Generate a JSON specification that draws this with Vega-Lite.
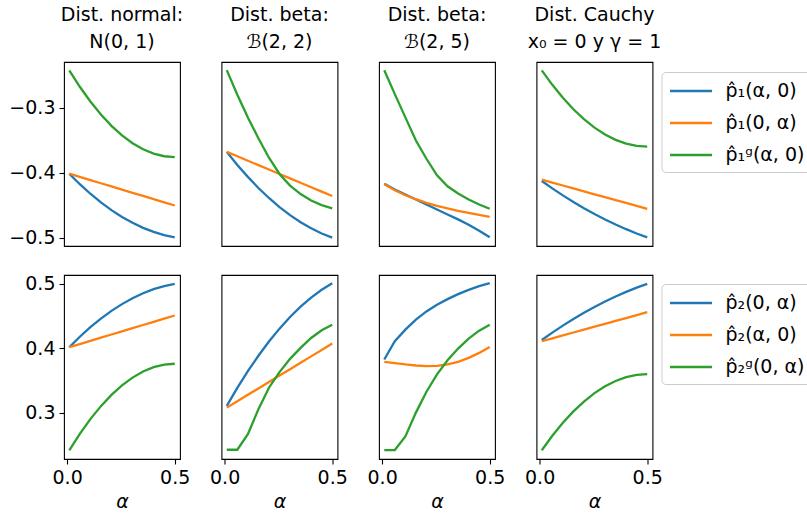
{
"$schema": "https://vega.github.io/schema/vega-lite/v6.json",
"padding": {"left": 8, "top": 5, "right": 0, "bottom": 0},
"background": "white",
"bounds": "full",
"spacing": 24,
"datasets": {
"top": [
{"d":"N","s":"p̂₁(α, 0)","a":0.01,"v":-0.4016},{"d":"N","s":"p̂₁(α, 0)","a":0.059,"v":-0.4178},{"d":"N","s":"p̂₁(α, 0)","a":0.108,"v":-0.4325},{"d":"N","s":"p̂₁(α, 0)","a":0.157,"v":-0.4458},{"d":"N","s":"p̂₁(α, 0)","a":0.206,"v":-0.4577},{"d":"N","s":"p̂₁(α, 0)","a":0.255,"v":-0.4682},{"d":"N","s":"p̂₁(α, 0)","a":0.304,"v":-0.4773},{"d":"N","s":"p̂₁(α, 0)","a":0.353,"v":-0.485},{"d":"N","s":"p̂₁(α, 0)","a":0.402,"v":-0.4913},{"d":"N","s":"p̂₁(α, 0)","a":0.451,"v":-0.4961},{"d":"N","s":"p̂₁(α, 0)","a":0.5,"v":-0.4996},
{"d":"N","s":"p̂₁(0, α)","a":0.01,"v":-0.4016},{"d":"N","s":"p̂₁(0, α)","a":0.059,"v":-0.4065},{"d":"N","s":"p̂₁(0, α)","a":0.108,"v":-0.4114},{"d":"N","s":"p̂₁(0, α)","a":0.157,"v":-0.4163},{"d":"N","s":"p̂₁(0, α)","a":0.206,"v":-0.4212},{"d":"N","s":"p̂₁(0, α)","a":0.255,"v":-0.4261},{"d":"N","s":"p̂₁(0, α)","a":0.304,"v":-0.431},{"d":"N","s":"p̂₁(0, α)","a":0.353,"v":-0.4359},{"d":"N","s":"p̂₁(0, α)","a":0.402,"v":-0.4408},{"d":"N","s":"p̂₁(0, α)","a":0.451,"v":-0.4457},{"d":"N","s":"p̂₁(0, α)","a":0.5,"v":-0.4506},
{"d":"N","s":"p̂₁ᵍ(α, 0)","a":0.01,"v":-0.2423},{"d":"N","s":"p̂₁ᵍ(α, 0)","a":0.059,"v":-0.2677},{"d":"N","s":"p̂₁ᵍ(α, 0)","a":0.108,"v":-0.2904},{"d":"N","s":"p̂₁ᵍ(α, 0)","a":0.157,"v":-0.3105},{"d":"N","s":"p̂₁ᵍ(α, 0)","a":0.206,"v":-0.3279},{"d":"N","s":"p̂₁ᵍ(α, 0)","a":0.255,"v":-0.3426},{"d":"N","s":"p̂₁ᵍ(α, 0)","a":0.304,"v":-0.3546},{"d":"N","s":"p̂₁ᵍ(α, 0)","a":0.353,"v":-0.364},{"d":"N","s":"p̂₁ᵍ(α, 0)","a":0.402,"v":-0.3707},{"d":"N","s":"p̂₁ᵍ(α, 0)","a":0.451,"v":-0.3747},{"d":"N","s":"p̂₁ᵍ(α, 0)","a":0.5,"v":-0.376},
{"d":"B22","s":"p̂₁(α, 0)","a":0.01,"v":-0.368},{"d":"B22","s":"p̂₁(α, 0)","a":0.059,"v":-0.3881},{"d":"B22","s":"p̂₁(α, 0)","a":0.108,"v":-0.4065},{"d":"B22","s":"p̂₁(α, 0)","a":0.157,"v":-0.4236},{"d":"B22","s":"p̂₁(α, 0)","a":0.206,"v":-0.439},{"d":"B22","s":"p̂₁(α, 0)","a":0.255,"v":-0.453},{"d":"B22","s":"p̂₁(α, 0)","a":0.304,"v":-0.4654},{"d":"B22","s":"p̂₁(α, 0)","a":0.353,"v":-0.4764},{"d":"B22","s":"p̂₁(α, 0)","a":0.402,"v":-0.4857},{"d":"B22","s":"p̂₁(α, 0)","a":0.451,"v":-0.4937},{"d":"B22","s":"p̂₁(α, 0)","a":0.5,"v":-0.5},
{"d":"B22","s":"p̂₁(0, α)","a":0.01,"v":-0.368},{"d":"B22","s":"p̂₁(0, α)","a":0.059,"v":-0.3748},{"d":"B22","s":"p̂₁(0, α)","a":0.108,"v":-0.3816},{"d":"B22","s":"p̂₁(0, α)","a":0.157,"v":-0.3884},{"d":"B22","s":"p̂₁(0, α)","a":0.206,"v":-0.3952},{"d":"B22","s":"p̂₁(0, α)","a":0.255,"v":-0.402},{"d":"B22","s":"p̂₁(0, α)","a":0.304,"v":-0.4088},{"d":"B22","s":"p̂₁(0, α)","a":0.353,"v":-0.4156},{"d":"B22","s":"p̂₁(0, α)","a":0.402,"v":-0.4224},{"d":"B22","s":"p̂₁(0, α)","a":0.451,"v":-0.4292},{"d":"B22","s":"p̂₁(0, α)","a":0.5,"v":-0.436},
{"d":"B22","s":"p̂₁ᵍ(α, 0)","a":0.01,"v":-0.242},{"d":"B22","s":"p̂₁ᵍ(α, 0)","a":0.059,"v":-0.28},{"d":"B22","s":"p̂₁ᵍ(α, 0)","a":0.108,"v":-0.315},{"d":"B22","s":"p̂₁ᵍ(α, 0)","a":0.157,"v":-0.347},{"d":"B22","s":"p̂₁ᵍ(α, 0)","a":0.206,"v":-0.377},{"d":"B22","s":"p̂₁ᵍ(α, 0)","a":0.255,"v":-0.402},{"d":"B22","s":"p̂₁ᵍ(α, 0)","a":0.304,"v":-0.42},{"d":"B22","s":"p̂₁ᵍ(α, 0)","a":0.353,"v":-0.433},{"d":"B22","s":"p̂₁ᵍ(α, 0)","a":0.402,"v":-0.443},{"d":"B22","s":"p̂₁ᵍ(α, 0)","a":0.451,"v":-0.45},{"d":"B22","s":"p̂₁ᵍ(α, 0)","a":0.5,"v":-0.455},
{"d":"B25","s":"p̂₁(α, 0)","a":0.01,"v":-0.4169},{"d":"B25","s":"p̂₁(α, 0)","a":0.059,"v":-0.4261},{"d":"B25","s":"p̂₁(α, 0)","a":0.108,"v":-0.4337},{"d":"B25","s":"p̂₁(α, 0)","a":0.157,"v":-0.4414},{"d":"B25","s":"p̂₁(α, 0)","a":0.206,"v":-0.449},{"d":"B25","s":"p̂₁(α, 0)","a":0.255,"v":-0.4567},{"d":"B25","s":"p̂₁(α, 0)","a":0.304,"v":-0.4644},{"d":"B25","s":"p̂₁(α, 0)","a":0.353,"v":-0.472},{"d":"B25","s":"p̂₁(α, 0)","a":0.402,"v":-0.4802},{"d":"B25","s":"p̂₁(α, 0)","a":0.451,"v":-0.4894},{"d":"B25","s":"p̂₁(α, 0)","a":0.5,"v":-0.4996},
{"d":"B25","s":"p̂₁(0, α)","a":0.01,"v":-0.4179},{"d":"B25","s":"p̂₁(0, α)","a":0.059,"v":-0.4271},{"d":"B25","s":"p̂₁(0, α)","a":0.108,"v":-0.4348},{"d":"B25","s":"p̂₁(0, α)","a":0.157,"v":-0.4409},{"d":"B25","s":"p̂₁(0, α)","a":0.206,"v":-0.4465},{"d":"B25","s":"p̂₁(0, α)","a":0.255,"v":-0.4511},{"d":"B25","s":"p̂₁(0, α)","a":0.304,"v":-0.4552},{"d":"B25","s":"p̂₁(0, α)","a":0.353,"v":-0.4588},{"d":"B25","s":"p̂₁(0, α)","a":0.402,"v":-0.4618},{"d":"B25","s":"p̂₁(0, α)","a":0.451,"v":-0.4649},{"d":"B25","s":"p̂₁(0, α)","a":0.5,"v":-0.468},
{"d":"B25","s":"p̂₁ᵍ(α, 0)","a":0.01,"v":-0.2423},{"d":"B25","s":"p̂₁ᵍ(α, 0)","a":0.059,"v":-0.279},{"d":"B25","s":"p̂₁ᵍ(α, 0)","a":0.108,"v":-0.3148},{"d":"B25","s":"p̂₁ᵍ(α, 0)","a":0.157,"v":-0.3505},{"d":"B25","s":"p̂₁ᵍ(α, 0)","a":0.206,"v":-0.3786},{"d":"B25","s":"p̂₁ᵍ(α, 0)","a":0.255,"v":-0.4041},{"d":"B25","s":"p̂₁ᵍ(α, 0)","a":0.304,"v":-0.421},{"d":"B25","s":"p̂₁ᵍ(α, 0)","a":0.353,"v":-0.4322},{"d":"B25","s":"p̂₁ᵍ(α, 0)","a":0.402,"v":-0.4414},{"d":"B25","s":"p̂₁ᵍ(α, 0)","a":0.451,"v":-0.449},{"d":"B25","s":"p̂₁ᵍ(α, 0)","a":0.5,"v":-0.4557},
{"d":"C","s":"p̂₁(α, 0)","a":0.01,"v":-0.4128},{"d":"C","s":"p̂₁(α, 0)","a":0.059,"v":-0.4242},{"d":"C","s":"p̂₁(α, 0)","a":0.108,"v":-0.435},{"d":"C","s":"p̂₁(α, 0)","a":0.157,"v":-0.4452},{"d":"C","s":"p̂₁(α, 0)","a":0.206,"v":-0.4548},{"d":"C","s":"p̂₁(α, 0)","a":0.255,"v":-0.4638},{"d":"C","s":"p̂₁(α, 0)","a":0.304,"v":-0.4722},{"d":"C","s":"p̂₁(α, 0)","a":0.353,"v":-0.4799},{"d":"C","s":"p̂₁(α, 0)","a":0.402,"v":-0.4871},{"d":"C","s":"p̂₁(α, 0)","a":0.451,"v":-0.4937},{"d":"C","s":"p̂₁(α, 0)","a":0.5,"v":-0.4996},
{"d":"C","s":"p̂₁(0, α)","a":0.01,"v":-0.4108},{"d":"C","s":"p̂₁(0, α)","a":0.059,"v":-0.4153},{"d":"C","s":"p̂₁(0, α)","a":0.108,"v":-0.4198},{"d":"C","s":"p̂₁(0, α)","a":0.157,"v":-0.4243},{"d":"C","s":"p̂₁(0, α)","a":0.206,"v":-0.4288},{"d":"C","s":"p̂₁(0, α)","a":0.255,"v":-0.4333},{"d":"C","s":"p̂₁(0, α)","a":0.304,"v":-0.4377},{"d":"C","s":"p̂₁(0, α)","a":0.353,"v":-0.4422},{"d":"C","s":"p̂₁(0, α)","a":0.402,"v":-0.4467},{"d":"C","s":"p̂₁(0, α)","a":0.451,"v":-0.4512},{"d":"C","s":"p̂₁(0, α)","a":0.5,"v":-0.4557},
{"d":"C","s":"p̂₁ᵍ(α, 0)","a":0.01,"v":-0.2424},{"d":"C","s":"p̂₁ᵍ(α, 0)","a":0.059,"v":-0.2647},{"d":"C","s":"p̂₁ᵍ(α, 0)","a":0.108,"v":-0.2847},{"d":"C","s":"p̂₁ᵍ(α, 0)","a":0.157,"v":-0.3024},{"d":"C","s":"p̂₁ᵍ(α, 0)","a":0.206,"v":-0.3176},{"d":"C","s":"p̂₁ᵍ(α, 0)","a":0.255,"v":-0.3306},{"d":"C","s":"p̂₁ᵍ(α, 0)","a":0.304,"v":-0.3412},{"d":"C","s":"p̂₁ᵍ(α, 0)","a":0.353,"v":-0.3494},{"d":"C","s":"p̂₁ᵍ(α, 0)","a":0.402,"v":-0.3553},{"d":"C","s":"p̂₁ᵍ(α, 0)","a":0.451,"v":-0.3588},{"d":"C","s":"p̂₁ᵍ(α, 0)","a":0.5,"v":-0.36}
],
"bot": [
{"d":"N","s":"p̂₂(0, α)","a":0.01,"v":0.4016},{"d":"N","s":"p̂₂(0, α)","a":0.059,"v":0.4178},{"d":"N","s":"p̂₂(0, α)","a":0.108,"v":0.4325},{"d":"N","s":"p̂₂(0, α)","a":0.157,"v":0.4458},{"d":"N","s":"p̂₂(0, α)","a":0.206,"v":0.4577},{"d":"N","s":"p̂₂(0, α)","a":0.255,"v":0.4682},{"d":"N","s":"p̂₂(0, α)","a":0.304,"v":0.4773},{"d":"N","s":"p̂₂(0, α)","a":0.353,"v":0.485},{"d":"N","s":"p̂₂(0, α)","a":0.402,"v":0.4913},{"d":"N","s":"p̂₂(0, α)","a":0.451,"v":0.4961},{"d":"N","s":"p̂₂(0, α)","a":0.5,"v":0.4996},
{"d":"N","s":"p̂₂(α, 0)","a":0.01,"v":0.4016},{"d":"N","s":"p̂₂(α, 0)","a":0.059,"v":0.4065},{"d":"N","s":"p̂₂(α, 0)","a":0.108,"v":0.4114},{"d":"N","s":"p̂₂(α, 0)","a":0.157,"v":0.4163},{"d":"N","s":"p̂₂(α, 0)","a":0.206,"v":0.4212},{"d":"N","s":"p̂₂(α, 0)","a":0.255,"v":0.4261},{"d":"N","s":"p̂₂(α, 0)","a":0.304,"v":0.431},{"d":"N","s":"p̂₂(α, 0)","a":0.353,"v":0.4359},{"d":"N","s":"p̂₂(α, 0)","a":0.402,"v":0.4408},{"d":"N","s":"p̂₂(α, 0)","a":0.451,"v":0.4457},{"d":"N","s":"p̂₂(α, 0)","a":0.5,"v":0.4506},
{"d":"N","s":"p̂₂ᵍ(0, α)","a":0.01,"v":0.2423},{"d":"N","s":"p̂₂ᵍ(0, α)","a":0.059,"v":0.2677},{"d":"N","s":"p̂₂ᵍ(0, α)","a":0.108,"v":0.2904},{"d":"N","s":"p̂₂ᵍ(0, α)","a":0.157,"v":0.3105},{"d":"N","s":"p̂₂ᵍ(0, α)","a":0.206,"v":0.3279},{"d":"N","s":"p̂₂ᵍ(0, α)","a":0.255,"v":0.3426},{"d":"N","s":"p̂₂ᵍ(0, α)","a":0.304,"v":0.3546},{"d":"N","s":"p̂₂ᵍ(0, α)","a":0.353,"v":0.364},{"d":"N","s":"p̂₂ᵍ(0, α)","a":0.402,"v":0.3707},{"d":"N","s":"p̂₂ᵍ(0, α)","a":0.451,"v":0.3747},{"d":"N","s":"p̂₂ᵍ(0, α)","a":0.5,"v":0.376},
{"d":"B22","s":"p̂₂(0, α)","a":0.01,"v":0.3108},{"d":"B22","s":"p̂₂(0, α)","a":0.059,"v":0.3387},{"d":"B22","s":"p̂₂(0, α)","a":0.108,"v":0.3645},{"d":"B22","s":"p̂₂(0, α)","a":0.157,"v":0.3884},{"d":"B22","s":"p̂₂(0, α)","a":0.206,"v":0.4104},{"d":"B22","s":"p̂₂(0, α)","a":0.255,"v":0.4303},{"d":"B22","s":"p̂₂(0, α)","a":0.304,"v":0.4483},{"d":"B22","s":"p̂₂(0, α)","a":0.353,"v":0.4643},{"d":"B22","s":"p̂₂(0, α)","a":0.402,"v":0.4783},{"d":"B22","s":"p̂₂(0, α)","a":0.451,"v":0.4904},{"d":"B22","s":"p̂₂(0, α)","a":0.5,"v":0.5005},
{"d":"B22","s":"p̂₂(α, 0)","a":0.01,"v":0.3082},{"d":"B22","s":"p̂₂(α, 0)","a":0.059,"v":0.3181},{"d":"B22","s":"p̂₂(α, 0)","a":0.108,"v":0.328},{"d":"B22","s":"p̂₂(α, 0)","a":0.157,"v":0.3379},{"d":"B22","s":"p̂₂(α, 0)","a":0.206,"v":0.3478},{"d":"B22","s":"p̂₂(α, 0)","a":0.255,"v":0.3577},{"d":"B22","s":"p̂₂(α, 0)","a":0.304,"v":0.3676},{"d":"B22","s":"p̂₂(α, 0)","a":0.353,"v":0.3775},{"d":"B22","s":"p̂₂(α, 0)","a":0.402,"v":0.3874},{"d":"B22","s":"p̂₂(α, 0)","a":0.451,"v":0.3973},{"d":"B22","s":"p̂₂(α, 0)","a":0.5,"v":0.4072},
{"d":"B22","s":"p̂₂ᵍ(0, α)","a":0.01,"v":0.2431},{"d":"B22","s":"p̂₂ᵍ(0, α)","a":0.059,"v":0.2431},{"d":"B22","s":"p̂₂ᵍ(0, α)","a":0.108,"v":0.2672},{"d":"B22","s":"p̂₂ᵍ(0, α)","a":0.157,"v":0.3057},{"d":"B22","s":"p̂₂ᵍ(0, α)","a":0.206,"v":0.339},{"d":"B22","s":"p̂₂ᵍ(0, α)","a":0.255,"v":0.3631},{"d":"B22","s":"p̂₂ᵍ(0, α)","a":0.304,"v":0.3836},{"d":"B22","s":"p̂₂ᵍ(0, α)","a":0.353,"v":0.4005},{"d":"B22","s":"p̂₂ᵍ(0, α)","a":0.402,"v":0.4159},{"d":"B22","s":"p̂₂ᵍ(0, α)","a":0.451,"v":0.4277},{"d":"B22","s":"p̂₂ᵍ(0, α)","a":0.5,"v":0.4364},
{"d":"B25","s":"p̂₂(0, α)","a":0.01,"v":0.3826},{"d":"B25","s":"p̂₂(0, α)","a":0.059,"v":0.4108},{"d":"B25","s":"p̂₂(0, α)","a":0.108,"v":0.4287},{"d":"B25","s":"p̂₂(0, α)","a":0.157,"v":0.4441},{"d":"B25","s":"p̂₂(0, α)","a":0.206,"v":0.4569},{"d":"B25","s":"p̂₂(0, α)","a":0.255,"v":0.4672},{"d":"B25","s":"p̂₂(0, α)","a":0.304,"v":0.4759},{"d":"B25","s":"p̂₂(0, α)","a":0.353,"v":0.4836},{"d":"B25","s":"p̂₂(0, α)","a":0.402,"v":0.4903},{"d":"B25","s":"p̂₂(0, α)","a":0.451,"v":0.4959},{"d":"B25","s":"p̂₂(0, α)","a":0.5,"v":0.5005},
{"d":"B25","s":"p̂₂(α, 0)","a":0.01,"v":0.379},{"d":"B25","s":"p̂₂(α, 0)","a":0.059,"v":0.3769},{"d":"B25","s":"p̂₂(α, 0)","a":0.108,"v":0.3749},{"d":"B25","s":"p̂₂(α, 0)","a":0.157,"v":0.3733},{"d":"B25","s":"p̂₂(α, 0)","a":0.206,"v":0.3723},{"d":"B25","s":"p̂₂(α, 0)","a":0.255,"v":0.3728},{"d":"B25","s":"p̂₂(α, 0)","a":0.304,"v":0.3749},{"d":"B25","s":"p̂₂(α, 0)","a":0.353,"v":0.379},{"d":"B25","s":"p̂₂(α, 0)","a":0.402,"v":0.3851},{"d":"B25","s":"p̂₂(α, 0)","a":0.451,"v":0.3928},{"d":"B25","s":"p̂₂(α, 0)","a":0.5,"v":0.402},
{"d":"B25","s":"p̂₂ᵍ(0, α)","a":0.01,"v":0.2426},{"d":"B25","s":"p̂₂ᵍ(0, α)","a":0.059,"v":0.2426},{"d":"B25","s":"p̂₂ᵍ(0, α)","a":0.108,"v":0.2636},{"d":"B25","s":"p̂₂ᵍ(0, α)","a":0.157,"v":0.3005},{"d":"B25","s":"p̂₂ᵍ(0, α)","a":0.206,"v":0.3328},{"d":"B25","s":"p̂₂ᵍ(0, α)","a":0.255,"v":0.3595},{"d":"B25","s":"p̂₂ᵍ(0, α)","a":0.304,"v":0.3815},{"d":"B25","s":"p̂₂ᵍ(0, α)","a":0.353,"v":0.3995},{"d":"B25","s":"p̂₂ᵍ(0, α)","a":0.402,"v":0.4149},{"d":"B25","s":"p̂₂ᵍ(0, α)","a":0.451,"v":0.4272},{"d":"B25","s":"p̂₂ᵍ(0, α)","a":0.5,"v":0.4364},
{"d":"C","s":"p̂₂(0, α)","a":0.01,"v":0.4128},{"d":"C","s":"p̂₂(0, α)","a":0.059,"v":0.4242},{"d":"C","s":"p̂₂(0, α)","a":0.108,"v":0.435},{"d":"C","s":"p̂₂(0, α)","a":0.157,"v":0.4452},{"d":"C","s":"p̂₂(0, α)","a":0.206,"v":0.4548},{"d":"C","s":"p̂₂(0, α)","a":0.255,"v":0.4638},{"d":"C","s":"p̂₂(0, α)","a":0.304,"v":0.4722},{"d":"C","s":"p̂₂(0, α)","a":0.353,"v":0.4799},{"d":"C","s":"p̂₂(0, α)","a":0.402,"v":0.4871},{"d":"C","s":"p̂₂(0, α)","a":0.451,"v":0.4937},{"d":"C","s":"p̂₂(0, α)","a":0.5,"v":0.4996},
{"d":"C","s":"p̂₂(α, 0)","a":0.01,"v":0.4108},{"d":"C","s":"p̂₂(α, 0)","a":0.059,"v":0.4153},{"d":"C","s":"p̂₂(α, 0)","a":0.108,"v":0.4198},{"d":"C","s":"p̂₂(α, 0)","a":0.157,"v":0.4243},{"d":"C","s":"p̂₂(α, 0)","a":0.206,"v":0.4288},{"d":"C","s":"p̂₂(α, 0)","a":0.255,"v":0.4333},{"d":"C","s":"p̂₂(α, 0)","a":0.304,"v":0.4377},{"d":"C","s":"p̂₂(α, 0)","a":0.353,"v":0.4422},{"d":"C","s":"p̂₂(α, 0)","a":0.402,"v":0.4467},{"d":"C","s":"p̂₂(α, 0)","a":0.451,"v":0.4512},{"d":"C","s":"p̂₂(α, 0)","a":0.5,"v":0.4557},
{"d":"C","s":"p̂₂ᵍ(0, α)","a":0.01,"v":0.2424},{"d":"C","s":"p̂₂ᵍ(0, α)","a":0.059,"v":0.2647},{"d":"C","s":"p̂₂ᵍ(0, α)","a":0.108,"v":0.2847},{"d":"C","s":"p̂₂ᵍ(0, α)","a":0.157,"v":0.3024},{"d":"C","s":"p̂₂ᵍ(0, α)","a":0.206,"v":0.3176},{"d":"C","s":"p̂₂ᵍ(0, α)","a":0.255,"v":0.3306},{"d":"C","s":"p̂₂ᵍ(0, α)","a":0.304,"v":0.3412},{"d":"C","s":"p̂₂ᵍ(0, α)","a":0.353,"v":0.3494},{"d":"C","s":"p̂₂ᵍ(0, α)","a":0.402,"v":0.3553},{"d":"C","s":"p̂₂ᵍ(0, α)","a":0.451,"v":0.3588},{"d":"C","s":"p̂₂ᵍ(0, α)","a":0.5,"v":0.36}
]
},
"vconcat": [
{
"bounds": "flush",
"spacing": 41.5,
"resolve": {"scale": {"color": "independent", "x": "independent", "y": "independent"}, "legend": {"color": "independent"}},
"hconcat": [
{"width": 116, "height": 184, "title": {"text": ["Dist. normal:", "N(0, 1)"]}, "data": {"name": "top"}, "transform": [{"filter": "datum.d === 'N'"}],
 "mark": {"type": "line", "strokeWidth": 2.3},
 "encoding": {
  "x": {"field": "a", "type": "quantitative", "scale": {"domain": [-0.0145, 0.5245], "nice": false, "zero": false}, "axis": null},
  "y": {"field": "v", "type": "quantitative", "scale": {"domain": [-0.513, -0.2295], "nice": false, "zero": false}, "axis": {"values": [-0.5, -0.4, -0.3], "format": ".1f", "title": null}},
  "color": {"field": "s", "type": "nominal", "scale": {"domain": ["p̂₁(α, 0)", "p̂₁(0, α)", "p̂₁ᵍ(α, 0)"], "range": ["#1f77b4", "#ff7f0e", "#2ca02c"]}, "legend": null}}},
{"width": 116, "height": 184, "title": {"text": ["Dist. beta:", "ℬ(2, 2)"]}, "data": {"name": "top"}, "transform": [{"filter": "datum.d === 'B22'"}],
 "mark": {"type": "line", "strokeWidth": 2.3},
 "encoding": {
  "x": {"field": "a", "type": "quantitative", "scale": {"domain": [-0.0145, 0.5245], "nice": false, "zero": false}, "axis": null},
  "y": {"field": "v", "type": "quantitative", "scale": {"domain": [-0.513, -0.2295], "nice": false, "zero": false}, "axis": null},
  "color": {"field": "s", "type": "nominal", "scale": {"domain": ["p̂₁(α, 0)", "p̂₁(0, α)", "p̂₁ᵍ(α, 0)"], "range": ["#1f77b4", "#ff7f0e", "#2ca02c"]}, "legend": null}}},
{"width": 116, "height": 184, "title": {"text": ["Dist. beta:", "ℬ(2, 5)"]}, "data": {"name": "top"}, "transform": [{"filter": "datum.d === 'B25'"}],
 "mark": {"type": "line", "strokeWidth": 2.3},
 "encoding": {
  "x": {"field": "a", "type": "quantitative", "scale": {"domain": [-0.0145, 0.5245], "nice": false, "zero": false}, "axis": null},
  "y": {"field": "v", "type": "quantitative", "scale": {"domain": [-0.513, -0.2295], "nice": false, "zero": false}, "axis": null},
  "color": {"field": "s", "type": "nominal", "scale": {"domain": ["p̂₁(α, 0)", "p̂₁(0, α)", "p̂₁ᵍ(α, 0)"], "range": ["#1f77b4", "#ff7f0e", "#2ca02c"]}, "legend": null}}},
{"width": 116, "height": 184, "title": {"text": ["Dist. Cauchy", "x₀ = 0 y γ = 1"]}, "data": {"name": "top"}, "transform": [{"filter": "datum.d === 'C'"}],
 "mark": {"type": "line", "strokeWidth": 2.3},
 "encoding": {
  "x": {"field": "a", "type": "quantitative", "scale": {"domain": [-0.0145, 0.5245], "nice": false, "zero": false}, "axis": null},
  "y": {"field": "v", "type": "quantitative", "scale": {"domain": [-0.513, -0.2295], "nice": false, "zero": false}, "axis": null},
  "color": {"field": "s", "type": "nominal", "scale": {"domain": ["p̂₁(α, 0)", "p̂₁(0, α)", "p̂₁ᵍ(α, 0)"], "range": ["#1f77b4", "#ff7f0e", "#2ca02c"]}, "legend": {"orient": "none", "legendX": 125, "legendY": 10, "title": null}}}}
]
},
{
"bounds": "flush",
"spacing": 41.5,
"resolve": {"scale": {"color": "independent", "x": "independent", "y": "independent"}, "legend": {"color": "independent"}},
"hconcat": [
{"width": 116, "height": 184, "data": {"name": "bot"}, "transform": [{"filter": "datum.d === 'N'"}],
 "mark": {"type": "line", "strokeWidth": 2.3},
 "encoding": {
  "x": {"field": "a", "type": "quantitative", "scale": {"domain": [-0.0145, 0.5245], "nice": false, "zero": false}, "axis": {"values": [0, 0.5], "format": ".1f", "title": "α"}},
  "y": {"field": "v", "type": "quantitative", "scale": {"domain": [0.2288, 0.5132], "nice": false, "zero": false}, "axis": {"values": [0.3, 0.4, 0.5], "format": ".1f", "title": null}},
  "color": {"field": "s", "type": "nominal", "scale": {"domain": ["p̂₂(0, α)", "p̂₂(α, 0)", "p̂₂ᵍ(0, α)"], "range": ["#1f77b4", "#ff7f0e", "#2ca02c"]}, "legend": null}}},
{"width": 116, "height": 184, "data": {"name": "bot"}, "transform": [{"filter": "datum.d === 'B22'"}],
 "mark": {"type": "line", "strokeWidth": 2.3},
 "encoding": {
  "x": {"field": "a", "type": "quantitative", "scale": {"domain": [-0.0145, 0.5245], "nice": false, "zero": false}, "axis": {"values": [0, 0.5], "format": ".1f", "title": "α"}},
  "y": {"field": "v", "type": "quantitative", "scale": {"domain": [0.2288, 0.5132], "nice": false, "zero": false}, "axis": null},
  "color": {"field": "s", "type": "nominal", "scale": {"domain": ["p̂₂(0, α)", "p̂₂(α, 0)", "p̂₂ᵍ(0, α)"], "range": ["#1f77b4", "#ff7f0e", "#2ca02c"]}, "legend": null}}},
{"width": 116, "height": 184, "data": {"name": "bot"}, "transform": [{"filter": "datum.d === 'B25'"}],
 "mark": {"type": "line", "strokeWidth": 2.3},
 "encoding": {
  "x": {"field": "a", "type": "quantitative", "scale": {"domain": [-0.0145, 0.5245], "nice": false, "zero": false}, "axis": {"values": [0, 0.5], "format": ".1f", "title": "α"}},
  "y": {"field": "v", "type": "quantitative", "scale": {"domain": [0.2288, 0.5132], "nice": false, "zero": false}, "axis": null},
  "color": {"field": "s", "type": "nominal", "scale": {"domain": ["p̂₂(0, α)", "p̂₂(α, 0)", "p̂₂ᵍ(0, α)"], "range": ["#1f77b4", "#ff7f0e", "#2ca02c"]}, "legend": null}}},
{"width": 116, "height": 184, "data": {"name": "bot"}, "transform": [{"filter": "datum.d === 'C'"}],
 "mark": {"type": "line", "strokeWidth": 2.3},
 "encoding": {
  "x": {"field": "a", "type": "quantitative", "scale": {"domain": [-0.0145, 0.5245], "nice": false, "zero": false}, "axis": {"values": [0, 0.5], "format": ".1f", "title": "α"}},
  "y": {"field": "v", "type": "quantitative", "scale": {"domain": [0.2288, 0.5132], "nice": false, "zero": false}, "axis": null},
  "color": {"field": "s", "type": "nominal", "scale": {"domain": ["p̂₂(0, α)", "p̂₂(α, 0)", "p̂₂ᵍ(0, α)"], "range": ["#1f77b4", "#ff7f0e", "#2ca02c"]}, "legend": {"orient": "none", "legendX": 125, "legendY": 9, "title": null}}}}
]
}
],
"resolve": {"scale": {"color": "independent", "x": "independent", "y": "independent"}, "legend": {"color": "independent"}},
"config": {
 "font": "DejaVu Sans",
 "view": {"stroke": "#000000", "strokeWidth": 1.1},
 "axis": {"domain": false, "grid": false, "tickSize": 5, "tickColor": "#000000", "tickWidth": 1.1, "labelFontSize": 19, "labelColor": "#000000", "labelPadding": 4, "titleFontSize": 19, "titleColor": "#000000", "titleFontWeight": "normal", "titleFontStyle": "italic", "titlePadding": 5, "labelFlush": false, "labelOverlap": false},
 "title": {"fontSize": 19, "fontWeight": "normal", "color": "#000000", "lineHeight": 27, "offset": 10, "anchor": "middle"},
 "legend": {"labelFontSize": 19, "labelColor": "#000000", "labelLimit": 300, "symbolType": "M-1,0H3", "symbolSize": 441, "symbolStrokeWidth": 2.3, "padding": 7, "fillColor": "#ffffff", "strokeColor": "#cccccc", "cornerRadius": 4, "labelOffset": 33, "rowPadding": 10}
}
}
